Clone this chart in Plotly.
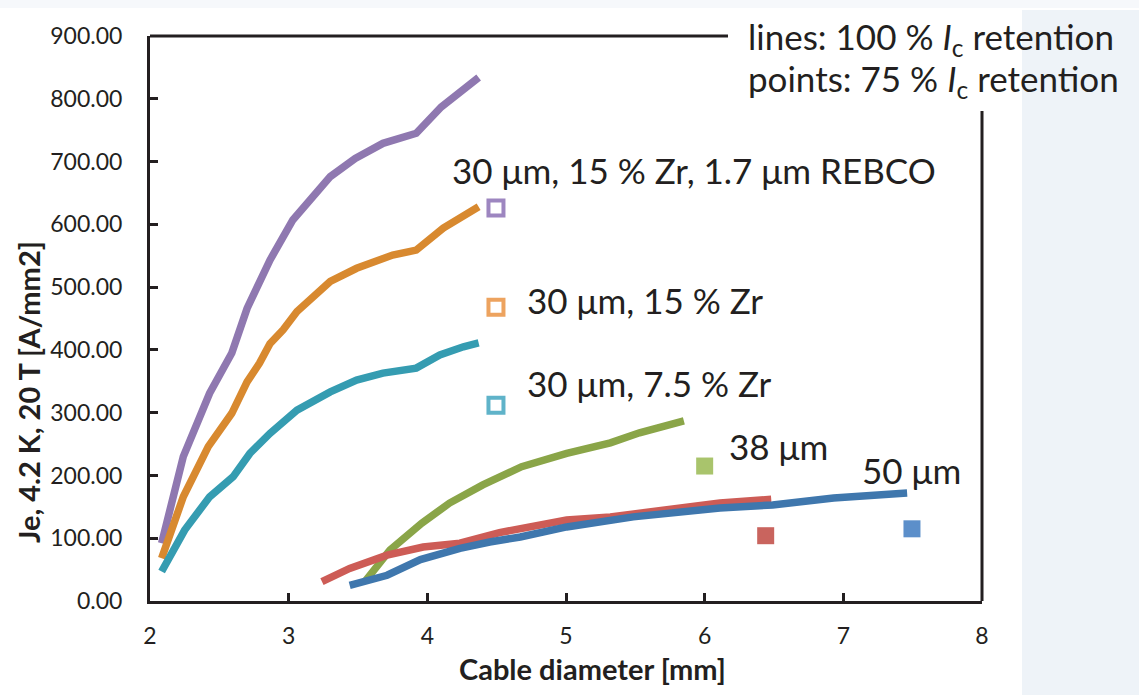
import plotly.graph_objects as go

# ---- data ----
purple_x = [2.084, 2.24, 2.43, 2.59, 2.70, 2.865, 3.03, 3.30, 3.48, 3.68, 3.92, 4.10, 4.37]
purple_y = [92, 230, 331, 395, 466, 543, 607, 676, 705, 729, 745, 787, 834]

orange_x = [2.084, 2.24, 2.42, 2.59, 2.70, 2.79, 2.865, 2.96, 3.06, 3.30, 3.49, 3.75, 3.92, 4.115, 4.37]
orange_y = [68, 166, 246, 299, 349, 379, 410, 432, 461, 509, 530, 551, 559, 594, 628]

teal_x = [2.084, 2.25, 2.43, 2.60, 2.72, 2.865, 3.06, 3.30, 3.49, 3.68, 3.92, 4.09, 4.26, 4.37]
teal_y = [47, 113, 166, 198, 235, 267, 304, 333, 352, 363, 371, 392, 405, 411]

green_x = [3.55, 3.73, 3.96, 4.16, 4.40, 4.68, 5.005, 5.22, 5.32, 5.53, 5.85]
green_y = [31, 81, 124, 156, 185, 214, 235, 248, 252, 268, 287]

red_x = [3.24, 3.44, 3.71, 3.97, 4.235, 4.52, 5.005, 5.32, 6.11, 6.48]
red_y = [31, 52, 73, 86, 92, 109, 129, 134, 156, 162]

blue_x = [3.44, 3.71, 3.95, 4.235, 4.45, 4.67, 5.005, 5.485, 6.11, 6.49, 6.93, 7.46]
blue_y = [25, 41, 66, 84, 94, 102, 118, 134, 148, 153, 164, 172]

# 75 % retention points
open_pts_x = [4.495, 4.495, 4.495]
open_pts_y = [626, 468, 312]
filled_pts_x = [6.00, 6.44, 7.495]
filled_pts_y = [215, 104, 115]

labels = ["30 μm, 15 % Zr, 1.7 μm REBCO", "30 μm, 15 % Zr", "30 μm, 7.5 % Zr", "38 μm", "50 μm"]
label_x = [4.163, 4.704, 4.704, 6.161, 7.12]
label_y = [686, 479, 347, 247, 209]

x_ticks = [2, 3, 4, 5, 6, 7, 8]
y_ticks = [0, 100, 200, 300, 400, 500, 600, 700, 800, 900]

# ---- styles ----
FONT = "Lato"
TXT = "#231f20"
line_cols = {"purple": "#8f78b0", "orange": "#d8892f", "teal": "#359cb1",
             "green": "#8aa548", "red": "#cd5c56", "blue": "#3f77ad"}
open_cols = ["#9d86c0", "#eda35f", "#5fb3c9"]
filled_cols = ["#a9c46c", "#c9645e", "#5c8fca"]

# plot-area pixel frame
L, R, T, B = 150, 982, 36, 601
W, H = 1139, 695
PW, PH = R - L, B - T


def px(xp):
    return (xp - L) / PW


def py(yp):
    return (B - yp) / PH


fig = go.Figure()

series = [(purple_x, purple_y, "purple"), (orange_x, orange_y, "orange"),
          (teal_x, teal_y, "teal"), (green_x, green_y, "green"),
          (red_x, red_y, "red"), (blue_x, blue_y, "blue")]
for xs, ys, c in series:
    fig.add_trace(go.Scatter(x=xs, y=ys, mode="lines",
                             line=dict(color=line_cols[c], width=7.5),
                             showlegend=False, hoverinfo="skip"))

fig.add_trace(go.Scatter(x=open_pts_x, y=open_pts_y, mode="markers",
                         marker=dict(symbol="square", size=15, color="white",
                                     line=dict(color=open_cols, width=4)),
                         showlegend=False, hoverinfo="skip"))
fig.add_trace(go.Scatter(x=filled_pts_x, y=filled_pts_y, mode="markers",
                         marker=dict(symbol="square", size=17, color=filled_cols,
                                     line=dict(width=0)),
                         showlegend=False, hoverinfo="skip"))

for t, lx, ly in zip(labels, label_x, label_y):
    fig.add_annotation(x=lx, y=ly, xref="x", yref="y", text=t, showarrow=False,
                       xanchor="left", yanchor="middle",
                       font=dict(family=FONT, size=35, color=TXT))

# legend-like note at top right
fig.add_annotation(x=px(746), y=py(38), xref="paper", yref="paper",
                   text="lines: 100 % <i>I</i><sub>c</sub> retention", showarrow=False,
                   xanchor="left", yanchor="middle",
                   font=dict(family=FONT, size=35, color=TXT))
fig.add_annotation(x=px(746), y=py(80), xref="paper", yref="paper",
                   text="points: 75 % <i>I</i><sub>c</sub> retention", showarrow=False,
                   xanchor="left", yanchor="middle",
                   font=dict(family=FONT, size=35, color=TXT))

# axis titles
fig.add_annotation(x=px(28), y=py(392), xref="paper", yref="paper",
                   text="<b>Je, 4.2 K, 20 T [A/mm2]</b>", textangle=-90, showarrow=False,
                   xanchor="center", yanchor="middle",
                   font=dict(family=FONT, size=29, color=TXT))
fig.add_annotation(x=px(592), y=py(668), xref="paper", yref="paper",
                   text="<b>Cable diameter [mm]</b>", showarrow=False,
                   xanchor="center", yanchor="middle",
                   font=dict(family=FONT, size=29, color=TXT))

# background panel on the right + faint top band
fig.add_shape(type="rect", xref="paper", yref="paper", layer="below",
              x0=px(1022), x1=px(W), y0=py(H), y1=py(10),
              fillcolor="#eef3f8", line=dict(width=0))
fig.add_shape(type="rect", xref="paper", yref="paper", layer="below",
              x0=px(0), x1=px(W), y0=py(8), y1=py(0),
              fillcolor="#f6f8fb", line=dict(width=0))

# partial top and right frame lines
fig.add_shape(type="line", xref="paper", yref="paper",
              x0=0, x1=px(728), y0=1, y1=1,
              line=dict(color=TXT, width=3))
fig.add_shape(type="line", xref="paper", yref="paper",
              x0=1, x1=1, y0=0, y1=py(111),
              line=dict(color=TXT, width=3))

fig.update_xaxes(range=[2, 8], tickvals=x_ticks, ticktext=[str(v) for v in x_ticks],
                 showgrid=False, zeroline=False, showline=True, linecolor=TXT, linewidth=3,
                 ticks="inside", ticklen=8, tickwidth=3, tickcolor=TXT,
                 tickfont=dict(family=FONT, size=23, color=TXT), ticklabelstandoff=12)
fig.update_yaxes(range=[0, 900], tickvals=y_ticks, tickformat=".2f",
                 showgrid=False, zeroline=False, showline=True, linecolor=TXT, linewidth=3,
                 ticks="inside", ticklen=8, tickwidth=3, tickcolor=TXT,
                 tickfont=dict(family=FONT, size=23, color=TXT), ticklabelstandoff=20)

fig.update_layout(width=W, height=H,
                  margin=dict(l=L, r=W - R, t=T, b=H - B),
                  paper_bgcolor="white", plot_bgcolor="rgba(0,0,0,0)",
                  font=dict(family=FONT, color=TXT))

fig.write_html("out.html", config={"displayModeBar": False},
               post_script="document.body.style.margin='0';document.body.style.overflow='hidden';")
